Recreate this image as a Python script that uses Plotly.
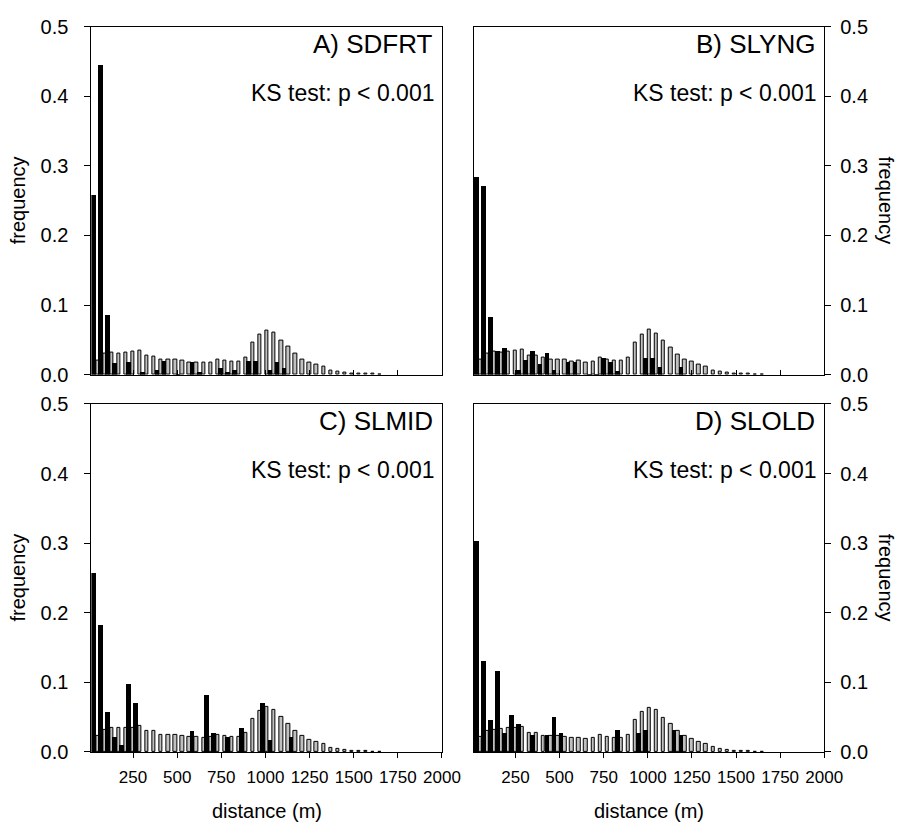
import plotly.graph_objects as go

# bin upper edges (m), 40 m bins
bins = [40 * k for k in range(1, 42)]

# Panel A) SDFRT
a_black = [0.258, 0.446, 0.087, 0.017, 0.0, 0.019, 0.0, 0.004, 0.0, 0.008,
           0.020, 0.0, 0.002, 0.0, 0.019, 0.004, 0.0, 0.0, 0.010, 0.004,
           0.008, 0.0, 0.020, 0.020, 0.0, 0.008, 0.019, 0.010, 0.0, 0.0,
           0, 0, 0, 0, 0, 0, 0, 0, 0, 0, 0]
a_grey = [0.020, 0.030, 0.032, 0.031, 0.032, 0.033, 0.034, 0.027, 0.026, 0.022,
          0.022, 0.021, 0.020, 0.018, 0.018, 0.017, 0.018, 0.022, 0.020, 0.019,
          0.019, 0.024, 0.046, 0.058, 0.064, 0.060, 0.049, 0.040, 0.030, 0.022,
          0.018, 0.015, 0.011, 0.006, 0.004, 0.003, 0.002, 0.002, 0.001, 0.001, 0.0005]

# Panel B) SLYNG
b_black = [0.284, 0.271, 0.083, 0.034, 0.039, 0.0, 0.007, 0.021, 0.035, 0.016,
           0.032, 0.007, 0.0, 0.019, 0.019, 0.0, 0.0014, 0.0014, 0.025, 0.019,
           0.006, 0.0, 0.0, 0.0, 0.025, 0.025, 0.012, 0.0, 0.0, 0.012,
           0, 0, 0, 0, 0, 0, 0, 0, 0, 0, 0]
b_grey = [0.022, 0.030, 0.033, 0.032, 0.033, 0.034, 0.036, 0.028, 0.028, 0.024,
          0.022, 0.022, 0.021, 0.019, 0.020, 0.018, 0.019, 0.024, 0.022, 0.020,
          0.020, 0.025, 0.046, 0.057, 0.065, 0.059, 0.049, 0.039, 0.029, 0.022,
          0.019, 0.015, 0.011, 0.006, 0.004, 0.0023, 0.0014, 0.0014, 0.001, 0.0005, 0.0003]

# Panel C) SLMID
c_black = [0.257, 0.183, 0.057, 0.021, 0.010, 0.098, 0.070, 0.0, 0.0, 0.0,
           0.0, 0.0, 0.0, 0.0, 0.031, 0.0, 0.082, 0.028, 0.0, 0.022,
           0.0, 0.034, 0.0, 0.0, 0.071, 0.017, 0.0, 0.0, 0.021, 0.0,
           0, 0, 0, 0, 0, 0, 0, 0, 0, 0, 0]
c_grey = [0.023, 0.032, 0.035, 0.035, 0.035, 0.035, 0.037, 0.030, 0.030, 0.025,
          0.024, 0.024, 0.023, 0.021, 0.021, 0.020, 0.021, 0.025, 0.023, 0.022,
          0.022, 0.027, 0.048, 0.059, 0.065, 0.061, 0.050, 0.040, 0.030, 0.023,
          0.018, 0.015, 0.011, 0.006, 0.004, 0.0023, 0.0014, 0.001, 0.001, 0.0005, 0.0003]

# Panel D) SLOLD
d_black = [0.303, 0.131, 0.046, 0.117, 0.028, 0.054, 0.040, 0.0, 0.024, 0.0,
           0.024, 0.051, 0.028, 0.0, 0.0, 0.0, 0.0, 0.0, 0.0, 0.0,
           0.032, 0.0, 0.0, 0.028, 0.032, 0.0, 0.0, 0.0, 0.032, 0.025,
           0, 0, 0, 0, 0, 0, 0, 0, 0, 0, 0]
d_grey = [0.021, 0.030, 0.032, 0.033, 0.034, 0.034, 0.036, 0.028, 0.028, 0.023,
          0.023, 0.023, 0.021, 0.020, 0.020, 0.019, 0.020, 0.024, 0.022, 0.020,
          0.020, 0.025, 0.046, 0.058, 0.064, 0.060, 0.049, 0.040, 0.030, 0.023,
          0.019, 0.015, 0.011, 0.007, 0.0046, 0.0032, 0.0018, 0.0014, 0.001, 0.0005, 0.0003]

panel_labels = ["A) SDFRT", "B) SLYNG", "C) SLMID", "D) SLOLD"]
ks_text = "KS test: p < 0.001"
x_ticks = [250, 500, 750, 1000, 1250, 1500, 1750, 2000]
y_ticks = [0.0, 0.1, 0.2, 0.3, 0.4, 0.5]

W, H = 917, 836
FONT = "Liberation Sans, Arial, sans-serif"
GREY = "#c0c0c0"

# panel pixel boxes (left, right, top, bottom)
boxes = [(93.3, 451.3, 16.0, 373.5), (483.8, 841.7, 16.0, 373.5),
         (93.3, 451.3, 403.5, 761.0), (483.8, 841.7, 403.5, 761.0)]

data = [(a_black, a_grey), (b_black, b_grey), (c_black, c_grey), (d_black, d_grey)]

fig = go.Figure()
layout = {}
annotations = []
for i, ((blk, gry), (l, r, t, b)) in enumerate(zip(data, boxes)):
    n = i + 1
    xa = "x" if n == 1 else f"x{n}"
    ya = "y" if n == 1 else f"y{n}"
    fig.add_trace(go.Bar(x=bins, y=gry, width=19, offset=0, xaxis=xa, yaxis=ya,
                         marker=dict(color=GREY, line=dict(color="black", width=1)),
                         showlegend=False))
    fig.add_trace(go.Bar(x=bins, y=blk, width=26, offset=-26, xaxis=xa, yaxis=ya,
                         marker=dict(color="black", line=dict(width=0)),
                         showlegend=False))
    bottom = i >= 2
    right = i % 2 == 1
    xkey = "xaxis" if n == 1 else f"xaxis{n}"
    ykey = "yaxis" if n == 1 else f"yaxis{n}"
    layout[xkey] = dict(domain=[l / W, r / W], range=[14, 2000], anchor=ya,
                        tickvals=x_ticks, ticks="outside" if bottom else "inside",
                        ticklen=5, tickwidth=1, tickcolor="black",
                        showticklabels=bottom, showline=True, mirror=True,
                        linecolor="black", linewidth=1, showgrid=False, zeroline=False,
                        tickfont=dict(family=FONT, size=17, color="black"),
                        ticklabelstandoff=5)
    layout[ykey] = dict(domain=[1 - b / H, 1 - t / H], range=[0, 0.5], anchor=xa,
                        side="right" if right else "left",
                        tickvals=y_ticks, tickformat=".1f", ticks="outside",
                        ticklen=6, tickwidth=1, tickcolor="black",
                        showline=True, mirror=True, linecolor="black", linewidth=1,
                        showgrid=False, zeroline=False,
                        tickfont=dict(family=FONT, size=20, color="black"),
                        ticklabelstandoff=12 if not right else 5)
    xd = f"{xa} domain"
    yd = f"{ya} domain"
    annotations.append(dict(text=panel_labels[i], xref=xd, yref=yd, x=1, y=1,
                            xanchor="right", yanchor="middle", xshift=-7, yshift=-17,
                            showarrow=False, font=dict(family=FONT, size=26, color="black")))
    annotations.append(dict(text=ks_text, xref=xd, yref=yd, x=1, y=1,
                            xanchor="right", yanchor="middle", xshift=-6, yshift=-66,
                            showarrow=False, font=dict(family=FONT, size=23, color="black")))
    ymid = 1 - (t + b) / 2 / H
    if right:
        annotations.append(dict(text="frequency", xref="paper", yref="paper",
                                x=905 / W, y=ymid, xanchor="center", yanchor="middle",
                                textangle=90, showarrow=False,
                                font=dict(family=FONT, size=20, color="black")))
    else:
        annotations.append(dict(text="frequency", xref="paper", yref="paper",
                                x=18 / W, y=ymid, xanchor="center", yanchor="middle",
                                textangle=-90, showarrow=False,
                                font=dict(family=FONT, size=20, color="black")))
    if bottom:
        xmid = (l + r) / 2 / W
        annotations.append(dict(text="distance (m)", xref="paper", yref="paper",
                                x=xmid, y=1 - 822 / H, xanchor="center", yanchor="middle",
                                showarrow=False, font=dict(family=FONT, size=20, color="black")))

fig.update_layout(**layout)
fig.update_layout(width=W, height=H, margin=dict(l=0, r=0, t=0, b=0),
                  paper_bgcolor="white", plot_bgcolor="white",
                  barmode="overlay", bargap=0, annotations=annotations,
                  font=dict(family=FONT, color="black"))
fig.write_html("out.html")
